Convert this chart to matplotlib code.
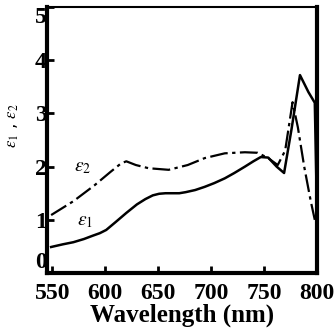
import matplotlib
matplotlib.use("Agg")
import matplotlib.pyplot as plt

plt.rcParams['mathtext.fontset'] = 'stix'

# wavelength (nm) and dielectric constants
wl_e1 = [549, 560, 570, 580, 588, 595, 601, 610, 620, 630, 638, 645, 651, 657, 663, 670, 676, 685,
         694, 703, 713, 722, 732, 740, 747, 754, 762, 769, 776, 784, 792, 798, 800]
eps1 = [0.49, 0.54, 0.58, 0.64, 0.70, 0.75, 0.81, 0.96, 1.13, 1.29, 1.39, 1.46, 1.49, 1.50, 1.50,
        1.50, 1.52, 1.56, 1.62, 1.69, 1.78, 1.88, 2.00, 2.10, 2.18, 2.17, 2.00, 1.88, 2.70, 3.72,
        3.40, 3.20, 1.20]

wl_e2 = [549, 570, 590, 605, 615, 620, 629, 641, 660, 678, 694, 713, 732, 744, 754, 763, 770, 777,
         782, 788, 794, 798]
eps2 = [1.09, 1.35, 1.65, 1.90, 2.06, 2.10, 2.03, 1.97, 1.94, 2.03, 2.16, 2.25, 2.27, 2.26, 2.16,
        2.03, 2.30, 3.21, 2.74, 2.00, 1.37, 1.00]

xticks = [550, 600, 650, 700, 750, 800]
yticks = [0, 1, 2, 3, 4, 5]

fig = plt.figure(figsize=(3.35, 3.31), dpi=100)
ax = fig.add_axes([0.140, 0.175, 0.806, 0.804])

ax.plot(wl_e1, eps1, color='black', lw=1.8, solid_joinstyle='round')
ax.plot(wl_e2, eps2, color='black', lw=1.6, linestyle=(0, (8, 2, 1.5, 2)))

ax.text(579, 2.0, r'$\varepsilon_2$', fontsize=14, ha='center', va='center')
ax.text(581, 0.98, r'$\varepsilon_1$', fontsize=14, ha='center', va='center')

ax.set_xlim(545, 800)
ax.set_ylim(0, 5)
ax.set_xticks(xticks)
ax.set_yticks(yticks)

tick_font = dict(family='Liberation Serif', weight='bold', size=17)
ax.set_xticklabels([str(t) for t in xticks], fontdict=tick_font)
ax.set_yticklabels([str(t) for t in yticks], fontdict=tick_font)
labs = ax.get_yticklabels()
labs[0].set_va('bottom')
labs[-1].set_va('top')

ax.tick_params(direction='in', length=5, width=2, pad=0)
ax.tick_params(axis='x', pad=7)

for side in ['left', 'bottom', 'right']:
    ax.spines[side].set_linewidth(3)
ax.spines['top'].set_linewidth(1.5)

ax.set_xlabel('Wavelength (nm)', family='Liberation Serif', weight='bold', size=18, labelpad=0)
fig.text(0.036, 0.62, r'$\varepsilon_1$ , $\varepsilon_2$', rotation=90, fontsize=12,
         ha='center', va='center')

fig.savefig('out.png', dpi=100)
